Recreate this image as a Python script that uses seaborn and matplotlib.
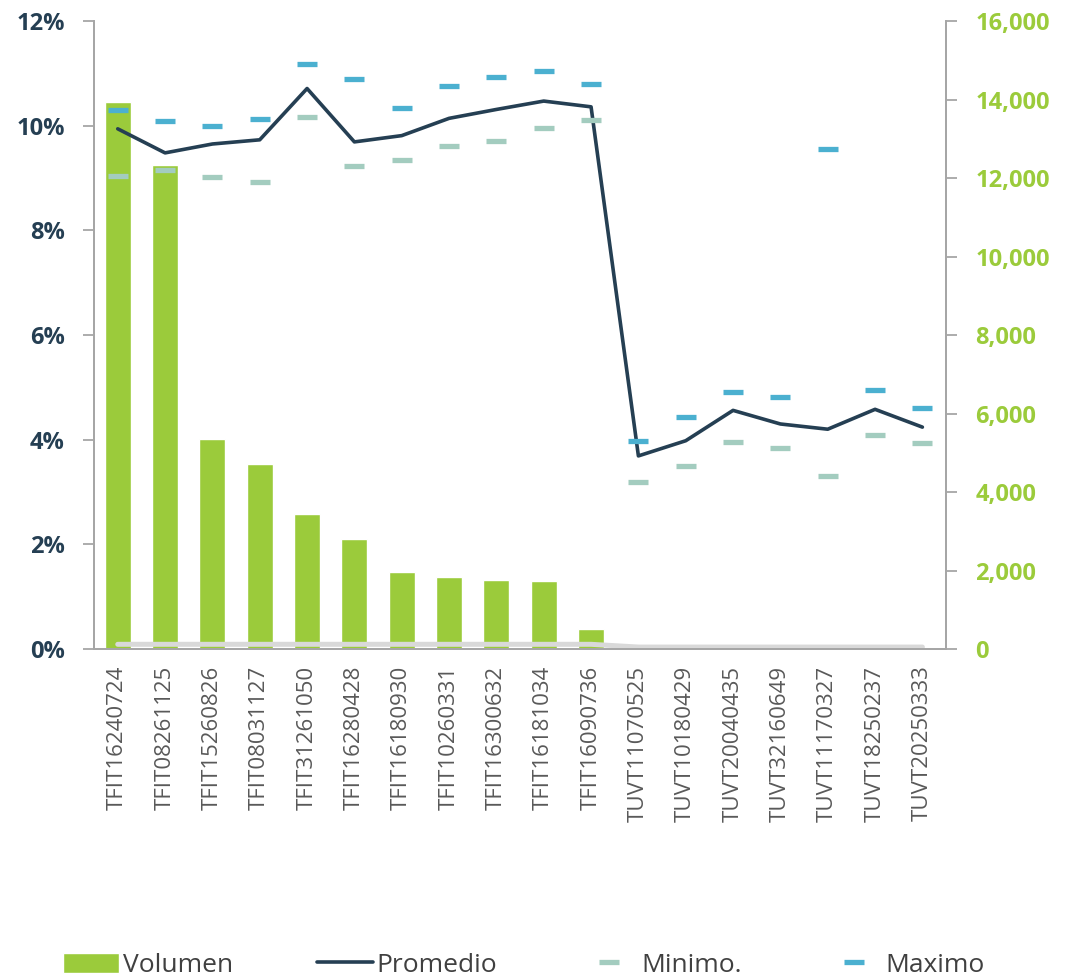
import numpy as np
import pandas as pd
import matplotlib
matplotlib.use('Agg')
import matplotlib.pyplot as plt
from matplotlib.ticker import FuncFormatter, FixedLocator
import seaborn as sns

codigos = ['TFIT16240724', 'TFIT08261125', 'TFIT15260826', 'TFIT08031127', 'TFIT31261050',
           'TFIT16280428', 'TFIT16180930', 'TFIT10260331', 'TFIT16300632', 'TFIT16181034',
           'TFIT16090736', 'TUVT11070525', 'TUVT10180429', 'TUVT20040435', 'TUVT32160649',
           'TUVT11170327', 'TUVT18250237', 'TUVT20250333']
volumen = [13930, 12330, 5350, 4710, 3440, 2800, 1960, 1835, 1760, 1730, 510,
           0, 0, 0, 0, 0, 0, 0]
promedio = [9.94, 9.48, 9.65, 9.73, 10.71, 9.69, 9.81, 10.14, 10.31, 10.47, 10.36,
            3.69, 3.98, 4.56, 4.30, 4.20, 4.58, 4.24]
minimo = [9.03, 9.15, 9.01, 8.92, 10.16, 9.22, 9.35, 9.62, 9.70, 9.95, 10.10,
          3.20, 3.49, 3.96, 3.84, 3.31, 4.09, 3.94]
maximo = [10.30, 10.08, 10.00, 10.12, 11.18, 10.89, 10.33, 10.75, 10.93, 11.05, 10.80,
          3.98, 4.43, 4.91, 4.81, 9.55, 4.95, 4.60]
referencia = [120, 120, 120, 120, 120, 120, 120, 120, 120, 120, 120,
              50, 50, 50, 50, 50, 50, 50]

df = pd.DataFrame({'codigo': codigos, 'volumen': volumen, 'promedio': promedio,
                   'minimo': minimo, 'maximo': maximo, 'ref': referencia})
df['x'] = np.arange(len(df))

sns.set_style('white')
plt.rcParams['font.family'] = ['Open Sans', 'DejaVu Sans']

verde = '#9BCB3B'
navy = '#253F53'
azul = '#4BB0D0'
menta = '#A3CCBF'
gris = '#A6A6A6'

fig = plt.figure(figsize=(10.69, 9.77), dpi=100)
ax1 = fig.add_axes([0.088, 0.3357, 0.797, 0.6428])
ax2 = ax1.twinx()
ax1.set_zorder(ax2.get_zorder() + 1)
ax1.patch.set_visible(False)

# barras en eje derecho
ax2.bar(df['x'], df['volumen'], width=0.55, color=verde, label='Volumen')
sns.lineplot(data=df, x='x', y='ref', ax=ax2, color='#D9D9D9', linewidth=3.6,
             label='_nolegend_', legend=False)

# tasas en eje izquierdo
sns.lineplot(data=df, x='x', y='promedio', ax=ax1, color=navy, linewidth=2.6,
             label='Promedio', legend=False)
sns.lineplot(data=df, x='x', y='minimo', ax=ax1, color=menta, linestyle='none',
             marker='_', markersize=14, markeredgewidth=3.8, markeredgecolor=menta,
             label='Minimo.', legend=False)
sns.lineplot(data=df, x='x', y='maximo', ax=ax1, color=azul, linestyle='none',
             marker='_', markersize=14, markeredgewidth=3.8, markeredgecolor=azul,
             label='Maximo', legend=False)

n = len(df)
ax1.set_xlim(-0.5, n - 0.5)
ax1.set_ylim(0, 12)
ax2.set_ylim(0, 16000)
ax1.set_yticks(np.arange(0, 13, 2))
ax2.set_yticks(np.arange(0, 16001, 2000))
ax1.yaxis.set_major_formatter(FuncFormatter(lambda v, p: f'{v:.0f}%'))
ax2.yaxis.set_major_formatter(FuncFormatter(lambda v, p: f'{v:,.0f}'))

ax1.set_xticks(df['x'])
ax1.set_xticklabels(df['codigo'], rotation=90, fontsize=16, color='#595959')
ax1.xaxis.set_minor_locator(FixedLocator(np.arange(-0.5, n, 1)))
ax1.tick_params(axis='x', which='major', length=0, pad=12)
ax1.tick_params(axis='x', which='minor', length=10, width=1.3, color=gris, direction='out')
ax1.tick_params(axis='y', length=8, width=1.3, color=gris, labelsize=17,
                labelcolor=navy, pad=13)
ax2.tick_params(axis='y', length=8, width=1.3, color=gris, labelsize=17,
                labelcolor=verde, pad=13)
for lab in ax1.get_yticklabels() + ax2.get_yticklabels():
    lab.set_fontweight('bold')
ax1.set_xlabel('')
ax1.set_ylabel('')
ax2.set_ylabel('')

for ax in (ax1, ax2):
    ax.spines['top'].set_visible(False)
    for s in ('left', 'right', 'bottom'):
        ax.spines[s].set_color(gris)
        ax.spines[s].set_linewidth(1.3)
ax1.grid(False)
ax2.grid(False)

h2, l2 = ax2.get_legend_handles_labels()
h1, l1 = ax1.get_legend_handles_labels()
handles = [h2[0]] + h1
labels = [l2[0]] + l1
fig.legend(handles, labels, loc='center', bbox_to_anchor=(0.49, 0.012), ncol=4,
           frameon=False, fontsize=19, labelcolor='#404040', handlelength=2.1,
           handleheight=0.8, handletextpad=0.15, columnspacing=3.2)

fig.savefig('out.png', dpi=100)
